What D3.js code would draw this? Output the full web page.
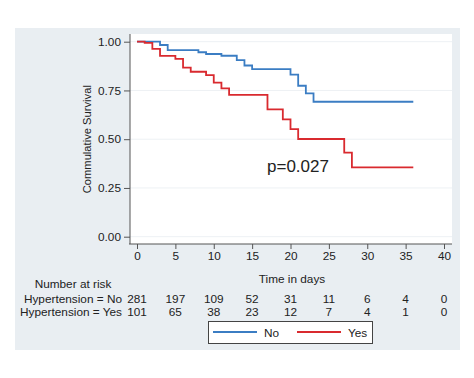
<!DOCTYPE html>
<html><head><meta charset="utf-8">
<script src="https://cdn.jsdelivr.net/npm/d3@7"></script>
<style>html,body{margin:0;padding:0;background:#fff;}svg{display:block;font-family:"Liberation Sans",Arial,sans-serif;}</style>
</head><body>
<script>
// Kaplan-Meier step data (time in days, survival)
const noTimes   = [0, 3, 4, 8, 9, 11, 13, 14, 15, 20, 21, 22, 23, 36];
const noSurv    = [1.00, 0.983, 0.957, 0.946, 0.937, 0.928, 0.906, 0.878, 0.859, 0.831, 0.774, 0.735, 0.692, 0.692];
const yesTimes  = [0, 1, 2, 3, 5, 6, 7, 9, 10, 11, 12, 17, 19, 20, 21, 27, 28, 36];
const yesSurv   = [1.00, 0.994, 0.963, 0.927, 0.912, 0.867, 0.846, 0.829, 0.790, 0.761, 0.727, 0.653, 0.602, 0.552, 0.501, 0.431, 0.356, 0.356];
const xTicks = [0, 5, 10, 15, 20, 25, 30, 35, 40];
const yTicks = [0, 0.25, 0.5, 0.75, 1];
const riskNo  = [281, 197, 109, 52, 31, 11, 6, 4, 0];
const riskYes = [101, 65, 38, 23, 12, 7, 4, 1, 0];
const riskLabels = ["Hypertension = No", "Hypertension = Yes"];
const legendLabels = ["No", "Yes"];
const pText = "p=0.027";

const W = 474, H = 378;
const FS = 11.8;
const svg = d3.select("body").append("svg").attr("width", W).attr("height", H);

// outer panel
svg.append("rect").attr("x", 15).attr("y", 28).attr("width", 445).attr("height", 322).attr("fill", "#e9eef2");
// plot area
svg.append("rect").attr("x", 130).attr("y", 34).attr("width", 322).attr("height", 210).attr("fill", "#ffffff");

const x = d3.scaleLinear().domain([0, 40]).range([137, 444]);
const y = d3.scaleLinear().domain([0, 1]).range([236.7, 41.7]);

// gridlines
svg.append("g").selectAll("line").data(yTicks).join("line")
  .attr("x1", 130).attr("x2", 452)
  .attr("y1", d => y(d)).attr("y2", d => y(d))
  .attr("stroke", "#edf1f4").attr("stroke-width", 1);

// y axis
const yAxis = d3.axisLeft(y).tickValues(yTicks).tickFormat(d3.format(".2f")).tickSize(6).tickPadding(3);
const gy = svg.append("g").attr("transform", "translate(130,0)").call(yAxis);
gy.select(".domain").attr("d", "M0,34V244").attr("stroke", "#555");
gy.selectAll(".tick line").attr("stroke", "#555");
gy.selectAll("text").attr("font-size", FS).attr("fill", "#222").attr("font-family", "Liberation Sans, Arial, sans-serif");

// x axis
const xAxis = d3.axisBottom(x).tickValues(xTicks).tickSize(5).tickPadding(3);
const gx = svg.append("g").attr("transform", "translate(0,244)").call(xAxis);
gx.select(".domain").attr("d", "M129,0H452").attr("stroke", "#555");
gx.selectAll(".tick line").attr("stroke", "#555");
gx.selectAll("text").attr("font-size", FS).attr("fill", "#222").attr("font-family", "Liberation Sans, Arial, sans-serif");

// curves
const line = d3.line().x(d => x(d[0])).y(d => y(d[1])).curve(d3.curveStepAfter);
svg.append("path").datum(noTimes.map((t, i) => [t, noSurv[i]]))
  .attr("d", line).attr("fill", "none").attr("stroke", "#3b7dc3").attr("stroke-width", 1.8);
svg.append("path").datum(yesTimes.map((t, i) => [t, yesSurv[i]]))
  .attr("d", line).attr("fill", "none").attr("stroke", "#d92a2f").attr("stroke-width", 1.8);

// axis titles
svg.append("text").attr("transform", `translate(91,${y(0.5)}) rotate(-90)`)
  .attr("text-anchor", "middle").attr("font-size", 11.2).attr("fill", "#222").text("Commulative Survival");
svg.append("text").attr("x", 292).attr("y", 283).attr("text-anchor", "middle")
  .attr("font-size", FS).attr("fill", "#222").text("Time in days");

// p-value
svg.append("text").attr("x", 267).attr("y", 172).attr("font-size", 17).attr("fill", "#222").text(pText);

// number at risk
svg.append("text").attr("x", 73).attr("y", 288).attr("text-anchor", "middle")
  .attr("font-size", FS).attr("fill", "#222").text("Number at risk");
[riskNo, riskYes].forEach((arr, r) => {
  const yy = 303 + r * 13;
  svg.append("text").attr("x", 122).attr("y", yy).attr("text-anchor", "end")
    .attr("font-size", FS).attr("fill", "#222").text(riskLabels[r]);
  svg.append("g").selectAll("text").data(arr).join("text")
    .attr("x", (d, i) => x(xTicks[i])).attr("y", yy).attr("text-anchor", "middle")
    .attr("font-size", FS).attr("fill", "#222").text(d => d);
});

// legend
svg.append("rect").attr("x", 208.5).attr("y", 321.5).attr("width", 164).attr("height", 22)
  .attr("fill", "#fff").attr("stroke", "#444").attr("stroke-width", 1);
const legColors = ["#3b7dc3", "#d92a2f"];
const legX = [213, 297];
legendLabels.forEach((lab, i) => {
  svg.append("line").attr("x1", legX[i]).attr("x2", legX[i] + 44).attr("y1", 332).attr("y2", 332)
    .attr("stroke", legColors[i]).attr("stroke-width", 1.8);
  svg.append("text").attr("x", legX[i] + 51).attr("y", 336.5).attr("font-size", FS).attr("fill", "#222").text(lab);
});
</script>
</body></html>
